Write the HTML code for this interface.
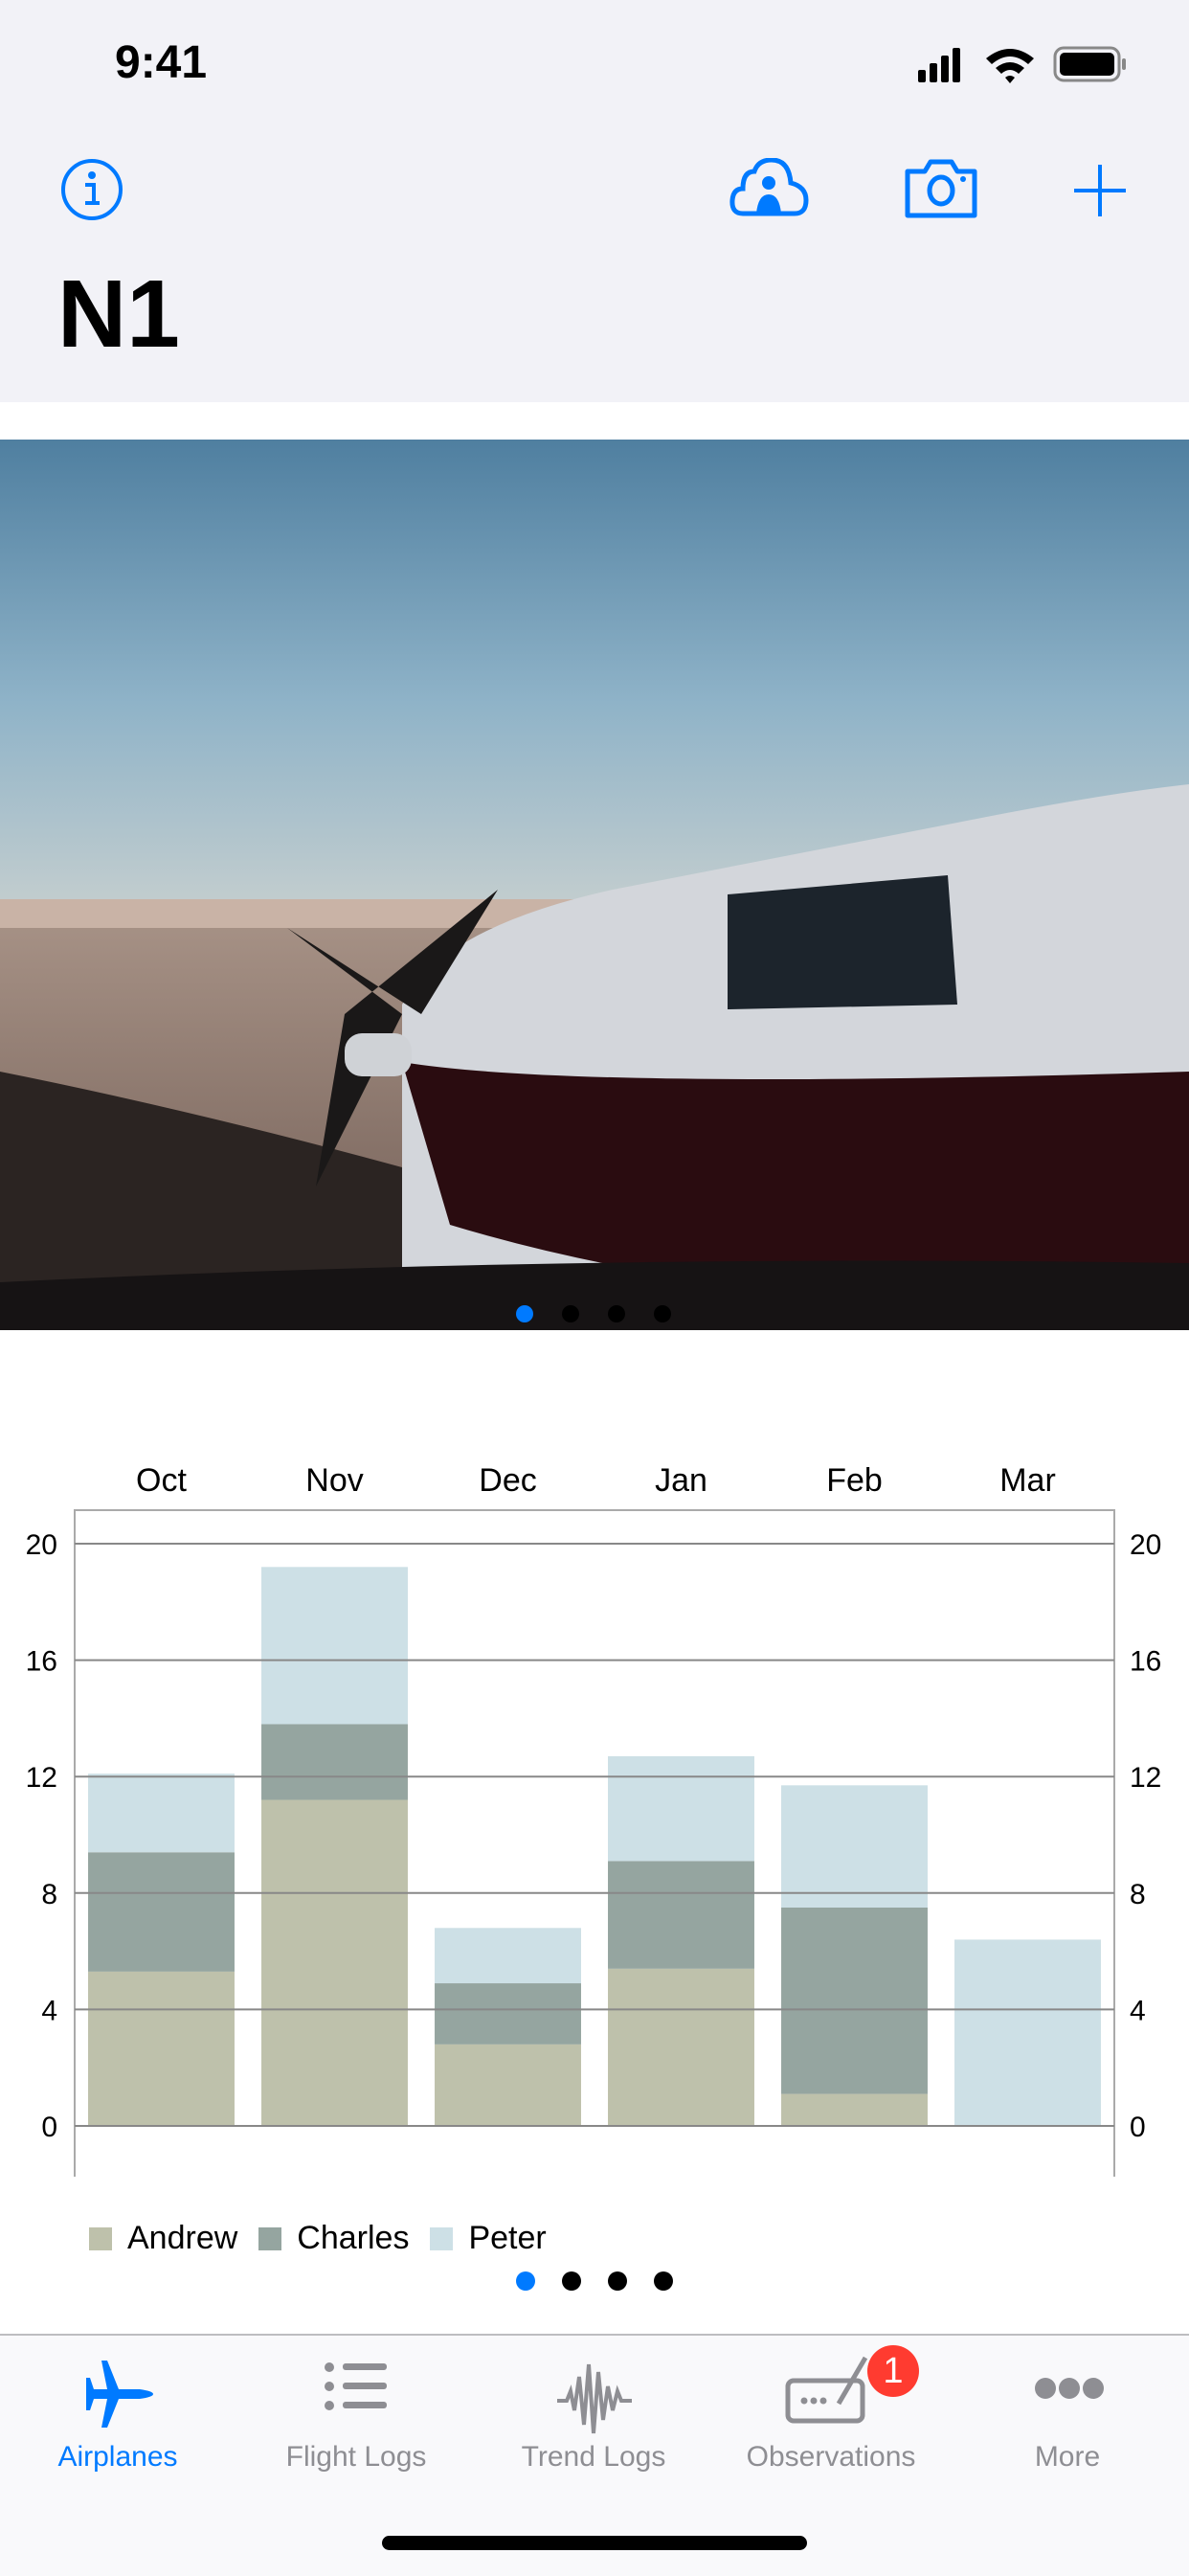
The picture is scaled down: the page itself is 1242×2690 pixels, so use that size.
<!DOCTYPE html>
<html><head><meta charset="utf-8">
<style>
html,body{margin:0;padding:0;}
body{width:1242px;height:2688px;position:relative;background:#fff;font-family:"Liberation Sans",sans-serif;overflow:hidden;}
.abs{position:absolute;}
</style></head>
<body>
<div class="abs" style="left:0;top:0;width:1242px;height:420px;background:#f2f2f7;"></div>
<div class="abs" style="left:120px;top:38px;font-size:48px;font-weight:bold;color:#000;">9:41</div>
<svg class="abs" style="left:950px;top:45px" width="230" height="45">
<rect x="9" y="28" width="8" height="13" rx="2"/><rect x="21" y="21" width="8" height="20" rx="2"/><rect x="33" y="13" width="8" height="28" rx="2"/><rect x="45" y="5" width="8" height="36" rx="2"/>
<path d="M80 16 Q105 -4 130 16 L124 22 Q105 6 86 22Z M90 26 Q105 14 120 26 L114 32 Q105 24 96 32Z M100 36 L105 42 L110 36 Q105 32 100 36Z"/>
<rect x="152" y="5" width="67" height="34" rx="9" fill="none" stroke="#888" stroke-width="3"/><rect x="157" y="10" width="57" height="24" rx="5"/><rect x="222" y="16" width="4" height="12" rx="2" fill="#888"/>
</svg>
<svg class="abs" style="left:62px;top:164px" width="68" height="68"><circle cx="34" cy="34" r="30" fill="none" stroke="#007aff" stroke-width="4"/><circle cx="34" cy="19" r="4" fill="#007aff"/><path d="M27 29h9v19M27 48h15" stroke="#007aff" stroke-width="4" fill="none"/></svg>
<svg class="abs" style="left:762px;top:165px" width="84" height="64"><path d="M14 58 Q2 58 3 44 Q4 32 14 32 Q14 14 26 14 Q30 2 44 2 Q62 2 64 26 Q80 30 80 44 Q80 58 68 58Z" fill="none" stroke="#007aff" stroke-width="5"/><circle cx="41" cy="26" r="7" fill="#007aff"/><path d="M28 58 Q30 38 41 38 Q52 38 54 58Z" fill="#007aff"/></svg>
<svg class="abs" style="left:944px;top:165px" width="78" height="64"><path d="M4 14h18l6-10h22l6 10h18v46H4Z" fill="none" stroke="#007aff" stroke-width="5" stroke-linejoin="round"/><ellipse cx="39" cy="34" rx="12" ry="14" fill="none" stroke="#007aff" stroke-width="5"/><circle cx="62" cy="22" r="3" fill="#007aff"/></svg>
<svg class="abs" style="left:1120px;top:170px" width="58" height="58"><path d="M29 2v54M2 29h54" stroke="#007aff" stroke-width="4"/></svg>
<div class="abs" style="left:60px;top:278px;font-size:100px;font-weight:bold;color:#000;line-height:1;">N1</div>

<svg class="abs" style="left:0;top:459px" width="1242" height="930">
<defs><linearGradient id="sky" x1="0" y1="0" x2="0" y2="1"><stop offset="0" stop-color="#4f7fa0"/><stop offset="0.55" stop-color="#8fb3c8"/><stop offset="1" stop-color="#c6cfcf"/></linearGradient>
<linearGradient id="gr" x1="0" y1="0" x2="0" y2="1"><stop offset="0" stop-color="#a99488"/><stop offset="1" stop-color="#6e5a52"/></linearGradient></defs>
<rect width="1242" height="500" fill="url(#sky)"/>
<rect y="480" width="1242" height="450" fill="url(#gr)"/>
<rect y="480" width="760" height="30" fill="#c9b3a6"/>
<path d="M0 660 Q200 700 420 760 L420 930 L0 930Z" fill="#2b2422"/>
<path d="M420 590 Q460 510 640 470 L1000 400 Q1150 370 1242 360 L1242 930 L420 930Z" fill="#d3d6db"/>
<path d="M420 650 Q600 680 1242 660 L1242 900 Q800 920 470 820Z" fill="#2a0c10"/>
<path d="M760 475 L990 455 L1000 590 L760 595Z" fill="#1c242c"/>
<path d="M300 510 L420 600 L330 780 L360 600 L520 470 L440 600Z" fill="#1a1818"/>
<rect x="360" y="620" width="70" height="45" rx="18" fill="#cfd2d6"/>
<path d="M0 880 Q600 850 1242 860 L1242 930 L0 930Z" fill="#161314"/>
<circle cx="548" cy="913" r="9" fill="#007aff"/><circle cx="596" cy="913" r="9" fill="#000"/><circle cx="644" cy="913" r="9" fill="#000"/><circle cx="692" cy="913" r="9" fill="#000"/>
</svg>

<svg class="abs" id="chart" style="left:0;top:0" width="1242" height="2420"></svg>

<div class="abs" style="left:93px;top:2318px;font-size:34px;color:#000;display:flex;align-items:center;">
<span style="display:inline-block;width:24px;height:24px;background:#bec1ab;margin-right:16px"></span><span style="margin-right:22px">Andrew</span>
<span style="display:inline-block;width:24px;height:24px;background:#95a5a0;margin-right:16px"></span><span style="margin-right:22px">Charles</span>
<span style="display:inline-block;width:24px;height:24px;background:#cde0e6;margin-right:16px"></span><span>Peter</span>
</div>
<svg class="abs" style="left:0;top:2370px" width="1242" height="24"><circle cx="549" cy="12" r="10" fill="#007aff"/><circle cx="597" cy="12" r="10"/><circle cx="645" cy="12" r="10"/><circle cx="693" cy="12" r="10"/></svg>

<div class="abs" style="left:0;top:2437px;width:1242px;height:251px;background:#f9f9fb;border-top:2px solid #bdbdc0;"></div>
<svg class="abs" style="left:88px;top:2465px" width="76" height="70"><path d="M24 0 L36 30 L58 30 Q72 32 72 35 Q72 38 58 40 L36 40 L24 70 L18 70 L24 40 L10 40 L6 52 L2 52 L2 18 L6 18 L10 30 L24 30 L18 0Z" fill="#007aff"/></svg>
<svg class="abs" style="left:338px;top:2466px" width="70" height="60"><g fill="#8e8e93"><circle cx="6" cy="6" r="5"/><circle cx="6" cy="26" r="5"/><circle cx="6" cy="46" r="5"/><rect x="20" y="2" width="46" height="7" rx="3"/><rect x="20" y="22" width="46" height="7" rx="3"/><rect x="20" y="42" width="46" height="7" rx="3"/></g></svg>
<svg class="abs" style="left:580px;top:2467px" width="82" height="76"><path d="M2 40 H12 L16 30 L20 50 L25 15 L30 65 L35 2 L40 74 L45 10 L50 60 L55 25 L60 50 L65 30 L69 40 H80" fill="none" stroke="#8e8e93" stroke-width="4"/></svg>
<svg class="abs" style="left:820px;top:2460px" width="90" height="72"><rect x="3" y="26" width="78" height="42" rx="6" fill="none" stroke="#8e8e93" stroke-width="5"/><g fill="#8e8e93"><circle cx="20" cy="47" r="3.5"/><circle cx="30" cy="47" r="3.5"/><circle cx="40" cy="47" r="3.5"/></g><path d="M56 50 L84 2" stroke="#8e8e93" stroke-width="5"/></svg>
<div class="abs" style="left:906px;top:2449px;width:54px;height:54px;border-radius:27px;background:#ff3b30;color:#fff;font-size:38px;text-align:center;line-height:54px;">1</div>
<svg class="abs" style="left:1080px;top:2481px" width="74" height="26"><g fill="#8e8e93"><circle cx="12" cy="13" r="11"/><circle cx="37" cy="13" r="11"/><circle cx="62" cy="13" r="11"/></g></svg>
<div class="abs" style="left:23px;width:200px;text-align:center;top:2549px;font-size:30px;color:#007aff;">Airplanes</div>
<div class="abs" style="left:272px;width:200px;text-align:center;top:2549px;font-size:30px;color:#8e8e93;">Flight Logs</div>
<div class="abs" style="left:520px;width:200px;text-align:center;top:2549px;font-size:30px;color:#8e8e93;">Trend Logs</div>
<div class="abs" style="left:768px;width:200px;text-align:center;top:2549px;font-size:30px;color:#8e8e93;">Observations</div>
<div class="abs" style="left:1015px;width:200px;text-align:center;top:2549px;font-size:30px;color:#8e8e93;">More</div>
<div class="abs" style="left:399px;top:2648px;width:444px;height:15px;border-radius:8px;background:#000;"></div>

<script>
const categories = ["Oct","Nov","Dec","Jan","Feb","Mar"];
const andrew = [5.3, 11.2, 2.8, 5.4, 1.1, 0];
const charles = [4.1, 2.6, 2.1, 3.7, 6.4, 0];
const peter = [2.7, 5.4, 1.9, 3.6, 4.2, 6.4];
const yTicks = [0, 4, 8, 12, 16, 20];
const seriesColors = ["#bec1ab", "#95a5a0", "#cde0e6"];
const seriesNames = ["andrew", "charles", "peter"];

const svg = document.getElementById('chart');
const NS = "http://www.w3.org/2000/svg";
const plotL = 78, plotR = 1164, plotTop = 1577, axisBottom = 2273;
const y0px = 2220, y20px = 1612;
function yScale(v){ return y0px - (v/20)*(y0px - y20px); }
const slot = (plotR - plotL) / categories.length;
function xScale(i){ return plotL + i*slot; }
const barW = slot*0.845, barOff = (slot - barW)/2;

function mk(tag, attrs){ const e = document.createElementNS(NS, tag); for (const k in attrs) e.setAttribute(k, attrs[k]); svg.appendChild(e); return e; }

let f = mk('path', {d:`M${plotL} ${axisBottom} V${plotTop} H${plotR} V${axisBottom}`, fill:'none', stroke:'#aaaaaa', 'stroke-width':2});



const series = [andrew, charles, peter];
categories.forEach((c, i) => {
  let base = 0;
  series.forEach((s, k) => {
    const v = s[i];
    if (v > 0) {
      const r = mk('rect', {x: xScale(i)+barOff, y: yScale(base+v), width: barW, height: yScale(base)-yScale(base+v), fill: seriesColors[k]});
      
      
    }
    base += v;
  });
});

yTicks.forEach(t => {
  const y = yScale(t);
  const l = mk('line', {x1: plotL, x2: plotR, y1: y, y2: y, stroke: '#888888', 'stroke-width': 2});
  
  
  const a = mk('text', {x: 60, y: y+11, 'text-anchor': 'end', 'font-size': 30, fill: '#000', 'font-family': 'Liberation Sans, sans-serif'});
  a.textContent = t;
  
  
  const b = mk('text', {x: 1180, y: y+11, 'text-anchor': 'start', 'font-size': 30, fill: '#000', 'font-family': 'Liberation Sans, sans-serif'});
  b.textContent = t;
  
  
});

categories.forEach((c, i) => {
  const t = mk('text', {x: xScale(i)+slot/2, y: 1557, 'text-anchor': 'middle', 'font-size': 34, fill: '#000', 'font-family': 'Liberation Sans, sans-serif'});
  t.textContent = c;
  
  
});
</script>
</body></html>
